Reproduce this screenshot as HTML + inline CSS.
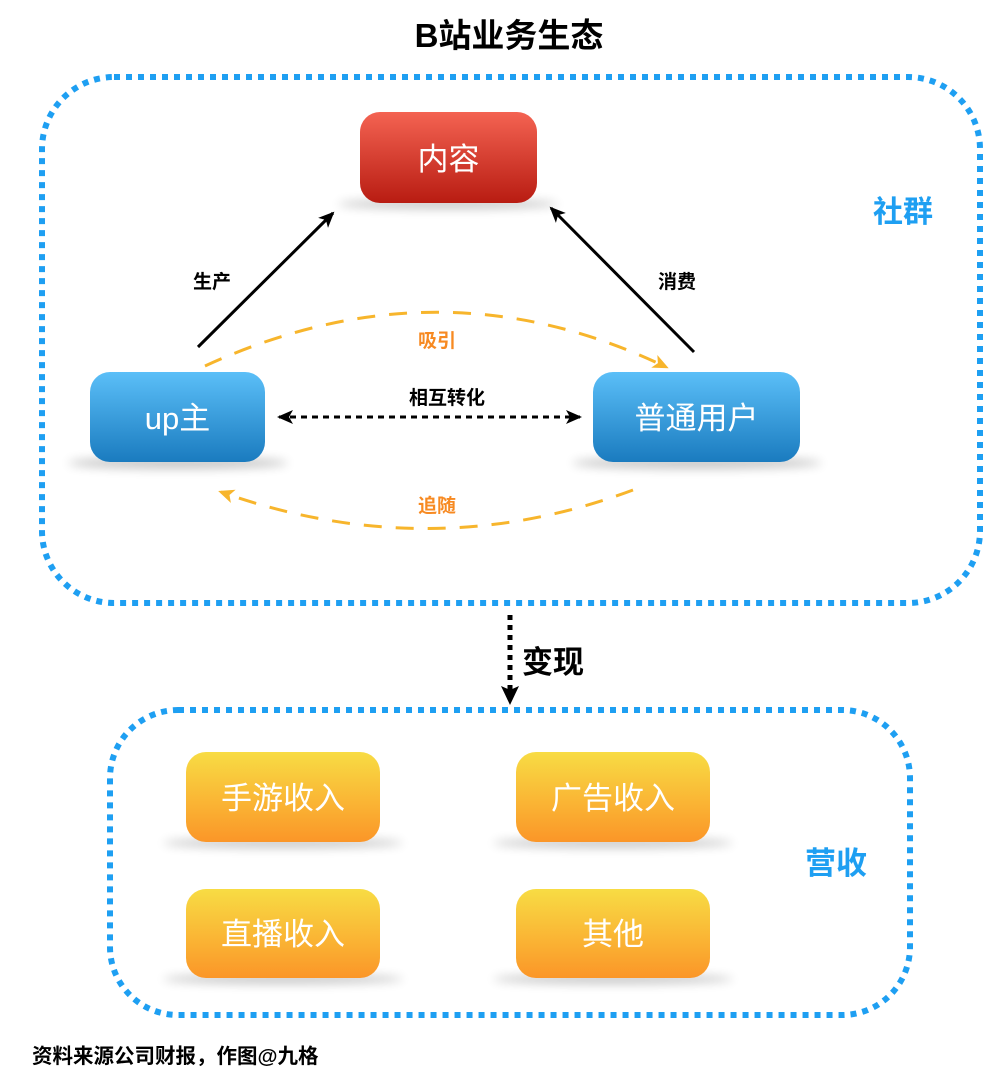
<!DOCTYPE html>
<html><head><meta charset="utf-8"><style>
body{margin:0;background:#fff;}
svg text{font-family:"Liberation Sans","Noto Sans CJK SC",sans-serif;}
</style></head><body>
<svg width="1006" height="1086" viewBox="0 0 1006 1086" xmlns="http://www.w3.org/2000/svg">
<defs>
<linearGradient id="red" x1="0" y1="0" x2="0" y2="1"><stop offset="0" stop-color="#f46352"/><stop offset="1" stop-color="#b81c12"/></linearGradient>
<linearGradient id="blue" x1="0" y1="0" x2="0" y2="1"><stop offset="0" stop-color="#5bbff8"/><stop offset="1" stop-color="#1a7bbf"/></linearGradient>
<linearGradient id="org" x1="0" y1="0" x2="0" y2="1"><stop offset="0" stop-color="#f8dc44"/><stop offset="1" stop-color="#fb9628"/></linearGradient>
<filter id="bl" x="-50%" y="-300%" width="200%" height="700%"><feGaussianBlur stdDeviation="5"/></filter>
<marker id="ah" markerWidth="16" markerHeight="16" refX="14" refY="8" orient="auto" markerUnits="userSpaceOnUse"><path d="M0,1 L16,8 L0,15 L4,8 z" fill="#000"/></marker>
<marker id="ahs" markerWidth="16" markerHeight="16" refX="2" refY="8" orient="auto" markerUnits="userSpaceOnUse"><path d="M16,1 L0,8 L16,15 L12,8 z" fill="#000"/></marker>
<marker id="ao" markerWidth="16" markerHeight="16" refX="13" refY="8" orient="auto" markerUnits="userSpaceOnUse"><path d="M0,1 L16,8 L0,15 L4,8 z" fill="#f7b52c"/></marker>
<marker id="ad" markerWidth="20" markerHeight="20" refX="18" refY="10" orient="auto" markerUnits="userSpaceOnUse"><path d="M0,1 L19,10 L0,19 L4,10 z" fill="#000"/></marker>
</defs>
<text x="509" y="47" text-anchor="middle" font-size="33" font-weight="bold" fill="#000">B站业务生态</text>
<rect x="42" y="77" width="938" height="526" rx="72" fill="none" stroke="#1e9ff2" stroke-width="6" stroke-dasharray="6 6"/>
<rect x="110" y="710" width="800" height="305" rx="68" fill="none" stroke="#1e9ff2" stroke-width="6" stroke-dasharray="6 6"/>
<g fill="#000" opacity="0.22" filter="url(#bl)">
<ellipse cx="448" cy="204" rx="110" ry="5"/>
<ellipse cx="178" cy="463" rx="110" ry="6"/>
<ellipse cx="697" cy="463" rx="125" ry="6"/>
<ellipse cx="283" cy="843" rx="120" ry="5"/>
<ellipse cx="613" cy="843" rx="120" ry="5"/>
<ellipse cx="283" cy="979" rx="120" ry="5"/>
<ellipse cx="613" cy="979" rx="120" ry="5"/>
</g>
<rect x="360" y="112" width="177" height="91" rx="20" fill="url(#red)"/>
<text x="448.5" y="170" text-anchor="middle" font-size="31" fill="#fff">内容</text>
<rect x="90" y="372" width="175" height="90" rx="20" fill="url(#blue)"/>
<text x="177.5" y="429" text-anchor="middle" font-size="31" fill="#fff">up主</text>
<rect x="593" y="372" width="207" height="90" rx="20" fill="url(#blue)"/>
<text x="696.5" y="429" text-anchor="middle" font-size="31" fill="#fff">普通用户</text>
<g font-size="31" fill="#fff" text-anchor="middle">
<rect x="186" y="752" width="194" height="90" rx="20" fill="url(#org)"/>
<text x="283" y="809">手游收入</text>
<rect x="516" y="752" width="194" height="90" rx="20" fill="url(#org)"/>
<text x="613" y="809">广告收入</text>
<rect x="186" y="889" width="194" height="89" rx="20" fill="url(#org)"/>
<text x="283" y="945">直播收入</text>
<rect x="516" y="889" width="194" height="89" rx="20" fill="url(#org)"/>
<text x="613" y="945">其他</text>
</g>
<line x1="198" y1="347" x2="333" y2="213" stroke="#000" stroke-width="3" marker-end="url(#ah)"/>
<line x1="694" y1="352" x2="551" y2="208" stroke="#000" stroke-width="3" marker-end="url(#ah)"/>
<line x1="279" y1="417" x2="580" y2="417" stroke="#000" stroke-width="3" stroke-dasharray="6 5" marker-start="url(#ahs)" marker-end="url(#ah)"/>
<path d="M205,366 Q440,258 666,367" fill="none" stroke="#f7b52c" stroke-width="3" stroke-dasharray="18 14" marker-end="url(#ao)"/>
<path d="M633,490 Q430,566 221,492" fill="none" stroke="#f7b52c" stroke-width="3" stroke-dasharray="18 14" marker-end="url(#ao)"/>
<line x1="510" y1="615" x2="510" y2="704" stroke="#000" stroke-width="5" stroke-dasharray="5 5" marker-end="url(#ad)"/>
<g font-size="19" fill="#000" text-anchor="middle" font-weight="bold">
<text x="212" y="288">生产</text>
<text x="677" y="288">消费</text>
<text x="447" y="404">相互转化</text>
</g>
<g font-size="19" fill="#f78a22" text-anchor="middle" font-weight="bold">
<text x="437" y="347">吸引</text>
<text x="437" y="512">追随</text>
</g>
<text x="903" y="222" text-anchor="middle" font-size="30" font-weight="bold" fill="#1e9ff2">社群</text>
<text x="836" y="874" text-anchor="middle" font-size="31" font-weight="bold" fill="#1e9ff2">营收</text>
<text x="553" y="673" text-anchor="middle" font-size="31" font-weight="bold" fill="#000">变现</text>
<text x="32" y="1063" font-size="20.5" font-weight="bold" fill="#000">资料来源公司财报，作图@九格</text>
</svg>
</body></html>
